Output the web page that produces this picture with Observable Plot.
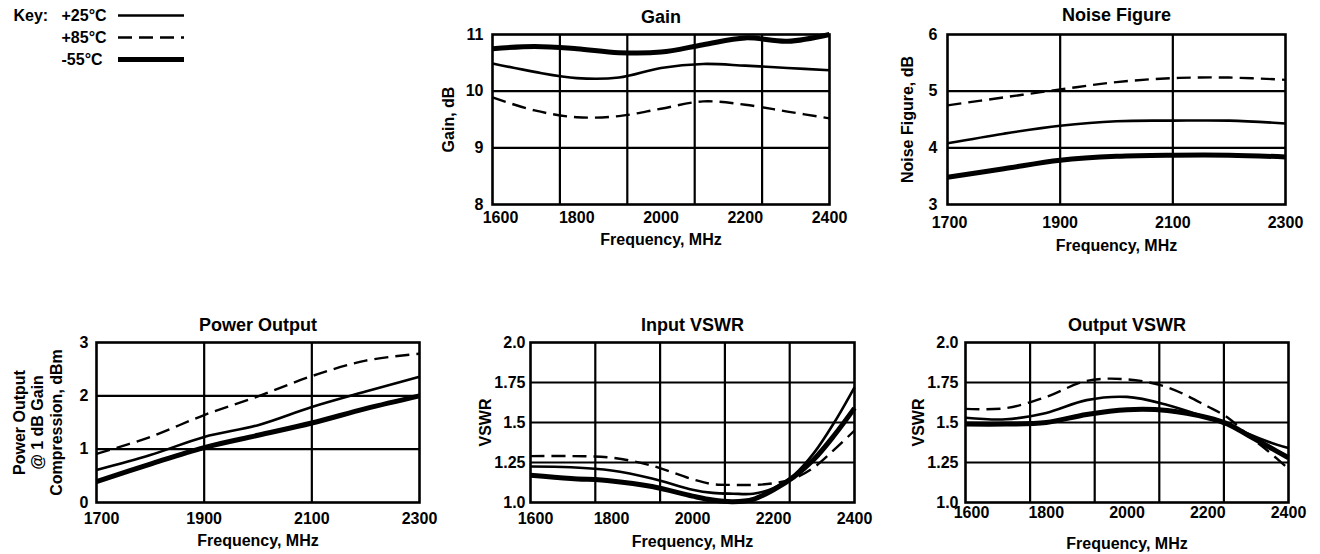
<!DOCTYPE html>
<html>
<head>
<meta charset="utf-8">
<script src="https://cdn.jsdelivr.net/npm/d3@7"></script>
<script src="https://cdn.jsdelivr.net/npm/@observablehq/plot@0.6"></script>
<style>
  html, body { margin: 0; padding: 0; background: #fff; }
  #root { position: relative; width: 1320px; height: 554px; overflow: hidden; background: #fff; }
  #root svg { position: absolute; max-width: none !important; overflow: visible; }
</style>
</head>
<body>
<div id="root"></div>
<script>
// ---------- data ----------
const seriesNames = ["+25°C", "+85°C", "-55°C"];

const gainFreq = [1600, 1700, 1800, 1900, 2000, 2100, 2200, 2300, 2400];
const gain25 = [10.49, 10.34, 10.23, 10.24, 10.41, 10.48, 10.45, 10.41, 10.37];
const gain85 = [9.89, 9.66, 9.54, 9.56, 9.69, 9.82, 9.76, 9.64, 9.52];
const gain55 = [10.75, 10.79, 10.75, 10.68, 10.69, 10.82, 10.94, 10.88, 11.0];
const gainXTicks = [1600, 1800, 2000, 2200, 2400];
const gainXGrid = [1760, 1920, 2080, 2240];
const gainYTicks = [8, 9, 10, 11];
const gainYGrid = [9, 10];

const nfFreq = [1700, 1800, 1900, 2000, 2100, 2200, 2300];
const nf25 = [4.08, 4.25, 4.39, 4.47, 4.48, 4.48, 4.43];
const nf85 = [4.75, 4.89, 5.03, 5.16, 5.23, 5.24, 5.20];
const nf55 = [3.48, 3.63, 3.78, 3.85, 3.87, 3.87, 3.84];
const nfXTicks = [1700, 1900, 2100, 2300];
const nfXGrid = [1900, 2100];
const nfYTicks = [3, 4, 5, 6];
const nfYGrid = [4, 5];

const poFreq = [1700, 1800, 1900, 2000, 2100, 2200, 2300];
const po25 = [0.61, 0.89, 1.23, 1.45, 1.79, 2.08, 2.36];
const po85 = [0.91, 1.23, 1.64, 1.99, 2.37, 2.66, 2.79];
const po55 = [0.39, 0.72, 1.03, 1.26, 1.49, 1.76, 2.0];
const poXTicks = [1700, 1900, 2100, 2300];
const poXGrid = [1900, 2100];
const poYTicks = [0, 1, 2, 3];
const poYGrid = [1, 2];

const ivFreq = [1600, 1700, 1800, 1900, 2000, 2050, 2100, 2150, 2200, 2250, 2300, 2350, 2400];
const iv25 = [1.225, 1.22, 1.20, 1.15, 1.08, 1.06, 1.055, 1.055, 1.09, 1.17, 1.31, 1.50, 1.72];
const iv85 = [1.29, 1.29, 1.28, 1.23, 1.145, 1.115, 1.11, 1.11, 1.12, 1.15, 1.22, 1.33, 1.45];
const iv55 = [1.17, 1.15, 1.135, 1.10, 1.04, 1.015, 1.005, 1.02, 1.08, 1.16, 1.27, 1.42, 1.59];

const ovFreq = [1600, 1700, 1800, 1900, 2000, 2100, 2200, 2250, 2300, 2350, 2400];
const ov25 = [1.53, 1.52, 1.56, 1.64, 1.66, 1.61, 1.53, 1.49, 1.43, 1.38, 1.34];
const ov85 = [1.585, 1.59, 1.66, 1.76, 1.77, 1.72, 1.60, 1.53, 1.42, 1.32, 1.21];
const ov55 = [1.49, 1.49, 1.50, 1.55, 1.58, 1.575, 1.53, 1.49, 1.42, 1.35, 1.28];

const vswrXTicks = [1600, 1800, 2000, 2200, 2400];
const vswrXGrid = [1760, 1920, 2080, 2240];
const vswrYTicks = [1.0, 1.25, 1.5, 1.75, 2.0];
const vswrYGrid = [1.25, 1.5, 1.75];

// ---------- helpers ----------
const FONT = "'Liberation Sans', Arial, Helvetica, sans-serif";
const styleByIndex = [
  {strokeWidth: 2.6},
  {strokeWidth: 2.4, strokeDasharray: "14,7"},
  {strokeWidth: 5}
];
const rowsOf = (freq, vals) => freq.map((f, i) => ({f, v: vals[i]}));
const vswrFmt = d => (d === 1 ? "1.0" : d === 2 ? "2.0" : String(d));

const root = document.getElementById("root");

function panel(o) {
  const [fl, fr, ft, fb] = o.frame;
  const mL = 110, mR = 30, mT = o.mT, mB = 60;
  const width = mL + (fr - fl) + mR;
  const height = mT + (fb - ft) + mB;
  const lineMarks = o.series.map((vals, i) =>
    Plot.line(rowsOf(o.freq, vals), {
      x: "f", y: "v", stroke: "black", curve: "catmull-rom",
      strokeLinecap: "butt", ...styleByIndex[i]
    })
  );
  const axisOpts = {tickSize: 0, tickPadding: o.xPad, fontSize: 16, fontWeight: "bold", label: null, tickFormat: d => String(d)};
  const svg = Plot.plot({
    width, height,
    marginLeft: mL, marginRight: mR, marginTop: mT, marginBottom: mB,
    style: {fontFamily: FONT, fontSize: "16px", fontWeight: "bold", color: "black", background: "transparent", overflow: "visible"},
    x: {domain: o.xDomain, label: null},
    y: {domain: o.yDomain, label: null},
    marks: [
      Plot.ruleX(o.xGrid, {stroke: "black", strokeWidth: 2.2}),
      Plot.ruleY(o.yGrid, {stroke: "black", strokeWidth: 2.2}),
      Plot.frame({stroke: "black", strokeWidth: 2.6}),
      ...lineMarks,
      Plot.axisX(o.xTicks.slice(0, 1), {...axisOpts, dx: o.firstDx}),
      Plot.axisX(o.xTicks.slice(1), axisOpts),
      Plot.axisY(o.yTicks, {tickSize: 0, tickPadding: o.yPad, fontSize: 16, fontWeight: "bold", label: null, tickFormat: o.yFmt || (d => String(d))}),
      Plot.text([o.title], {text: d => d, frameAnchor: "top", dy: o.titleDy, textAnchor: "middle", lineAnchor: "middle", fontSize: 18, fontWeight: "bold"}),
      Plot.text(["Frequency, MHz"], {text: d => d, frameAnchor: "bottom", dy: o.xLabelDy, textAnchor: "middle", lineAnchor: "middle", fontSize: 16, fontWeight: "bold"}),
      Plot.text([o.ylabel], {text: d => d, frameAnchor: "left", dx: o.yLabelDx, rotate: -90, textAnchor: "middle", lineAnchor: "middle", lineHeight: 1.15, fontSize: 16, fontWeight: "bold"})
    ]
  });
  svg.style.left = (fl - mL) + "px";
  svg.style.top = (ft - mT) + "px";
  root.appendChild(svg);
}

// Gain
panel({
  frame: [492, 829, 34, 204], mT: 34,
  freq: gainFreq, series: [gain25, gain85, gain55],
  xDomain: [1600, 2400], xTicks: gainXTicks, xGrid: gainXGrid,
  yDomain: [8, 11], yTicks: gainYTicks, yGrid: gainYGrid,
  title: "Gain", titleDy: -17.5, ylabel: "Gain, dB", yLabelDx: -44,
  xPad: 7, yPad: 9, xLabelDy: 35, firstDx: 8
});

// Noise Figure
panel({
  frame: [947, 1285, 34, 204], mT: 34,
  freq: nfFreq, series: [nf25, nf85, nf55],
  xDomain: [1700, 2300], xTicks: nfXTicks, xGrid: nfXGrid,
  yDomain: [3, 6], yTicks: nfYTicks, yGrid: nfYGrid,
  title: "Noise Figure", titleDy: -19, ylabel: "Noise Figure, dB", yLabelDx: -40,
  xPad: 12, yPad: 10, xLabelDy: 41.7, firstDx: 2
});

// Power Output
panel({
  frame: [96, 419, 342, 502], mT: 40,
  freq: poFreq, series: [po25, po85, po55],
  xDomain: [1700, 2300], xTicks: poXTicks, xGrid: poXGrid,
  yDomain: [0, 3], yTicks: poYTicks, yGrid: poYGrid,
  title: "Power Output", titleDy: -17, ylabel: "Power Output\n@ 1 dB Gain\nCompression, dBm", yLabelDx: -59,
  xPad: 10, yPad: 8, xLabelDy: 38.7, firstDx: 5
});

// Input VSWR
panel({
  frame: [530, 854, 342, 502], mT: 40,
  freq: ivFreq, series: [iv25, iv85, iv55],
  xDomain: [1600, 2400], xTicks: vswrXTicks, xGrid: vswrXGrid,
  yDomain: [1, 2], yTicks: vswrYTicks, yGrid: vswrYGrid, yFmt: vswrFmt,
  title: "Input VSWR", titleDy: -17, ylabel: "VSWR", yLabelDx: -45,
  xPad: 10.5, yPad: 5, xLabelDy: 39.7, firstDx: 5
});

// Output VSWR
panel({
  frame: [965, 1288, 342, 502], mT: 40,
  freq: ovFreq, series: [ov25, ov85, ov55],
  xDomain: [1600, 2400], xTicks: vswrXTicks, xGrid: vswrXGrid,
  yDomain: [1, 2], yTicks: vswrYTicks, yGrid: vswrYGrid, yFmt: vswrFmt,
  title: "Output VSWR", titleDy: -17, ylabel: "VSWR", yLabelDx: -47,
  xPad: 4, yPad: 7, xLabelDy: 41, firstDx: 6
});

// Key
{
  const keyRows = seriesNames.map((name, i) => ({name, i}));
  const keySvg = Plot.plot({
    width: 190, height: 75,
    marginLeft: 118, marginRight: 6, marginTop: 0, marginBottom: 0,
    style: {fontFamily: FONT, fontSize: "16px", fontWeight: "bold", color: "black", background: "transparent", overflow: "visible"},
    x: {domain: [0, 1], axis: null},
    y: {type: "point", domain: seriesNames, range: [15, 59], padding: 0, axis: null},
    marks: [
      ...keyRows.map(r => Plot.ruleY([r], {y: "name", x1: 0, x2: 1, stroke: "black", strokeLinecap: "butt", ...styleByIndex[r.i]})),
      Plot.text(keyRows, {x: 0, y: "name", text: "name", dx: -57, textAnchor: "start", lineAnchor: "middle", fontSize: 16, fontWeight: "bold"}),
      Plot.text([seriesNames[0]], {x: 0, y: d => d, text: () => "Key:", dx: -105, textAnchor: "start", lineAnchor: "middle", fontSize: 16, fontWeight: "bold"})
    ]
  });
  keySvg.style.left = "0px";
  keySvg.style.top = "0px";
  root.appendChild(keySvg);
}
</script>
</body>
</html>
